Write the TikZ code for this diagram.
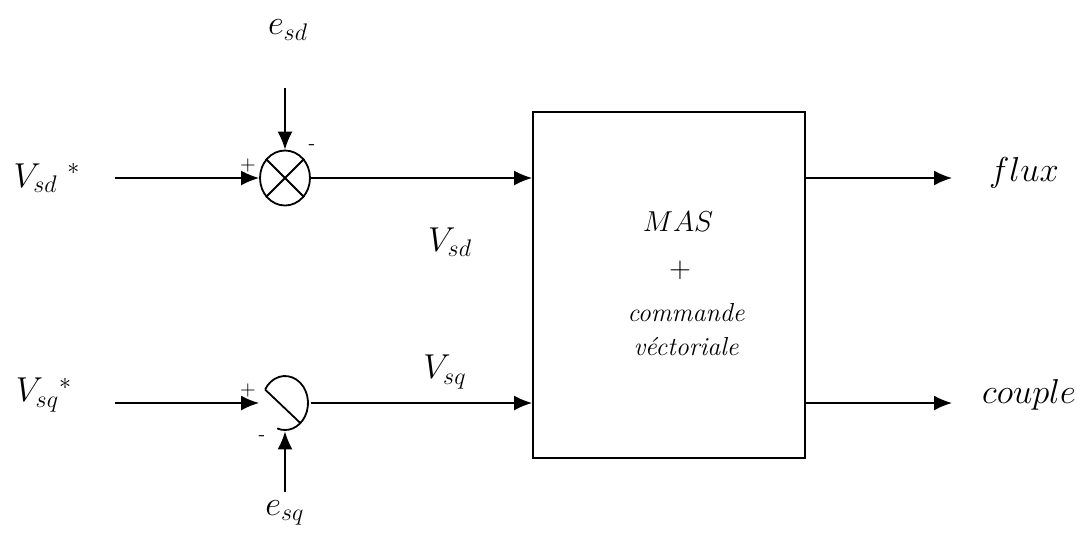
\documentclass[tikz,border=0pt]{standalone}
\usepackage{amsmath}
\usetikzlibrary{arrows.meta,positioning,calc,shapes.geometric}

\begin{document}
\begin{tikzpicture}[x=0.5pt,y=-0.5pt,
  sig/.style={-{Latex[length=9pt,width=7.5pt]},line width=0.9pt},
  lbl/.style={font=\LARGE,inner sep=0pt},
  sgn/.style={font=\normalsize,inner sep=0pt},
  sumnode/.style={ellipse,line width=0.9pt,minimum width=25pt,minimum height=27.5pt,inner sep=0pt}]
\useasboundingbox (0,0) rectangle (1085,532);
% comparateurs
\node[sumnode,draw] (sumd) at (285,178) {};
\draw[line width=0.9pt] (sumd.45) -- (sumd.225) (sumd.135) -- (sumd.315);
\node[sumnode] (sumq) at (285,403) {};
\draw[line width=0.9pt] ($(sumq.center)+(150:11.5pt and 13.5pt)$)
  arc[start angle=150,end angle=-110,x radius=11.5pt,y radius=13.5pt];
\draw[line width=0.9pt] ($(sumq.center)+(150:11.5pt and 13.5pt)$) -- ($(sumq.center)+(-48:11.5pt and 13.5pt)$);
% bloc MAS
\node[draw,line width=0.9pt,minimum width=136pt,minimum height=173pt] (mas) at (669,285) {};
\node[font=\Large] (masl) at (678,222) {$MAS$};
\node[font=\Large] (plusl) at (680,270) {$+$};
\node[font=\fontsize{13}{17}\selectfont\itshape,align=center] (cmdl) at (686,330) {commande\\v\'ectoriale};
% entrees
\coordinate (ind) at (115,178);
\coordinate (inq) at (115,403);
\coordinate (esdtop) at (285,88);
\coordinate (esqbot) at (285,492);
\node[lbl] (vsdref) at (47,178) {$V_{sd}\;{}^{*}$};
\node[lbl] (vsqref) at (44,395) {$V_{sq}{}^{*}$};
\node[lbl] (esd) at (288,30) {$e_{sd}$};
\node[lbl] (esq) at (285,513) {$e_{sq}$};
\draw[sig] (ind) -- (sumd.west);
\draw[sig] (inq) -- (sumq.west);
\draw[sig] (esdtop) -- (sumd.north);
\draw[sig] (esqbot) -- (sumq.south);
\node[sgn] (pd) at (248,165) {+};
\node[sgn] (md) at (312,147) {-};
\node[sgn] (pq) at (248,390) {+};
\node[sgn] (mq) at (262,438) {-};
% vers le bloc
\draw[sig] (sumd.east) -- (mas.west |- sumd.east);
\draw[sig] (sumq.east) -- (mas.west |- sumq.east);
\node[lbl] (vsd) at (450,242) {$V_{sd}$};
\node[lbl] (vsq) at (445,372) {$V_{sq}$};
% sorties
\coordinate (fluxend) at (952,178);
\coordinate (coupleend) at (952,403);
\draw[sig] (mas.east |- fluxend) -- (fluxend);
\draw[sig] (mas.east |- coupleend) -- (coupleend);
\node[lbl] (flux) at (1024,173) {$flux$};
\node[lbl] (couple) at (1029,395) {$couple$};
\end{tikzpicture}
\end{document}
